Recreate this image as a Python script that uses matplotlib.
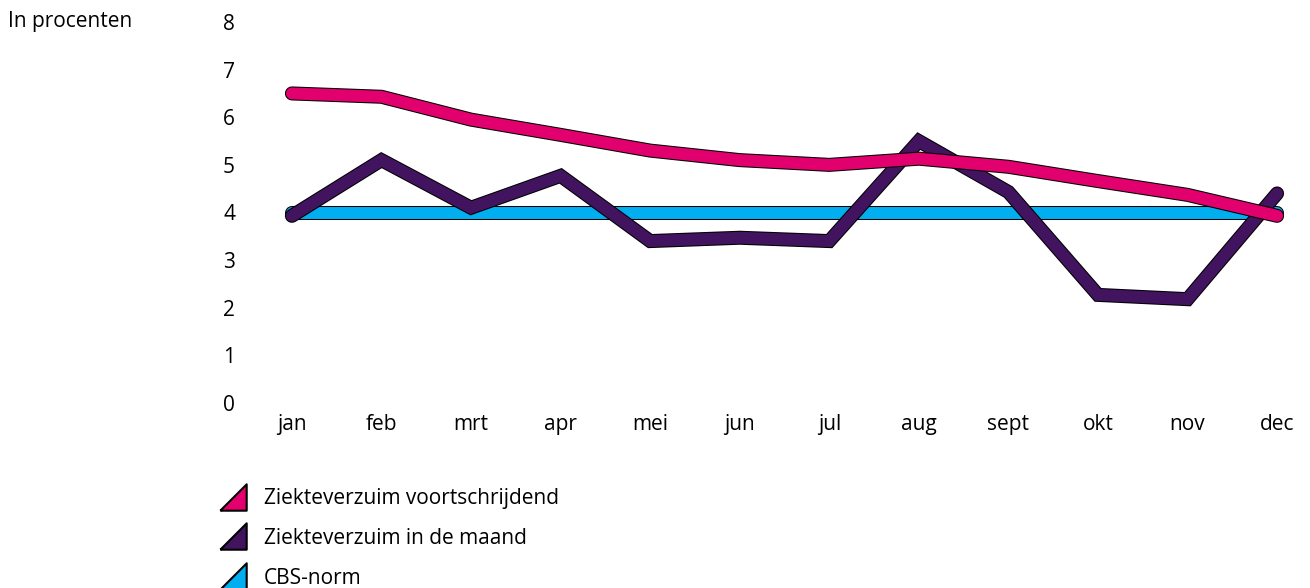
import numpy as np
import matplotlib
matplotlib.use("Agg")
import matplotlib.pyplot as plt
import matplotlib.patheffects as pe
from matplotlib.lines import Line2D

plt.rcParams['font.family'] = ['Open Sans', 'DejaVu Sans']

maanden = ['jan', 'feb', 'mrt', 'apr', 'mei', 'jun', 'jul', 'aug', 'sept', 'okt', 'nov', 'dec']
voortschrijdend = [6.5, 6.43, 5.95, 5.63, 5.3, 5.1, 5.0, 5.13, 4.96, 4.66, 4.37, 3.93]
in_de_maand = [3.93, 5.1, 4.1, 4.77, 3.4, 3.47, 3.4, 5.5, 4.43, 2.27, 2.18, 4.4]
cbs_norm = [4.0] * 12

roze = '#E2006F'
paars = '#42145F'
blauw = '#01AEEF'

fig = plt.figure(figsize=(13.1, 5.88), dpi=100)
ax = fig.add_axes([274 / 1310, 1 - 403 / 588, (1295 - 274) / 1310, (403 - 22) / 588])

x = np.arange(len(maanden))
lw = 8.6
for y, kleur in [(cbs_norm, blauw), (in_de_maand, paars), (voortschrijdend, roze)]:
    ax.plot(x, y, color=kleur, lw=lw, solid_capstyle='round', solid_joinstyle='miter',
            clip_on=False,
            path_effects=[pe.Stroke(linewidth=lw + 1.5, foreground='black'), pe.Normal()])

ax.set_xlim(-0.2, 11.2)
ax.set_ylim(0, 8)
ax.set_xticks(x)
ax.set_xticklabels(maanden)
ax.set_yticks(range(0, 9))
ax.tick_params(axis='both', length=0, labelsize=15)
ax.tick_params(axis='y', pad=28)
ax.tick_params(axis='x', pad=8)
for s in ax.spines.values():
    s.set_visible(False)

fig.text(8 / 1310, 1 - 22 / 588, 'In procenten', fontsize=15, va='center', ha='left')

# legenda met driehoekjes
driehoek = [(-1, -1), (1, -1), (1, 1), (-1, -1)]
handles = [Line2D([], [], ls='none', marker=driehoek, markersize=19, markerfacecolor=k,
                  markeredgecolor='black', markeredgewidth=1.5)
           for k in (roze, paars, blauw)]
labels = ['Ziekteverzuim voortschrijdend', 'Ziekteverzuim in de maand', 'CBS-norm']
fig.legend(handles, labels, loc='upper left', bbox_to_anchor=(220 / 1310, 1 - 488 / 588),
           frameon=False, fontsize=15, handlelength=1.2, handletextpad=0.9,
           labelspacing=0.9, borderpad=0, borderaxespad=0)

fig.savefig('out.png', dpi=100)
